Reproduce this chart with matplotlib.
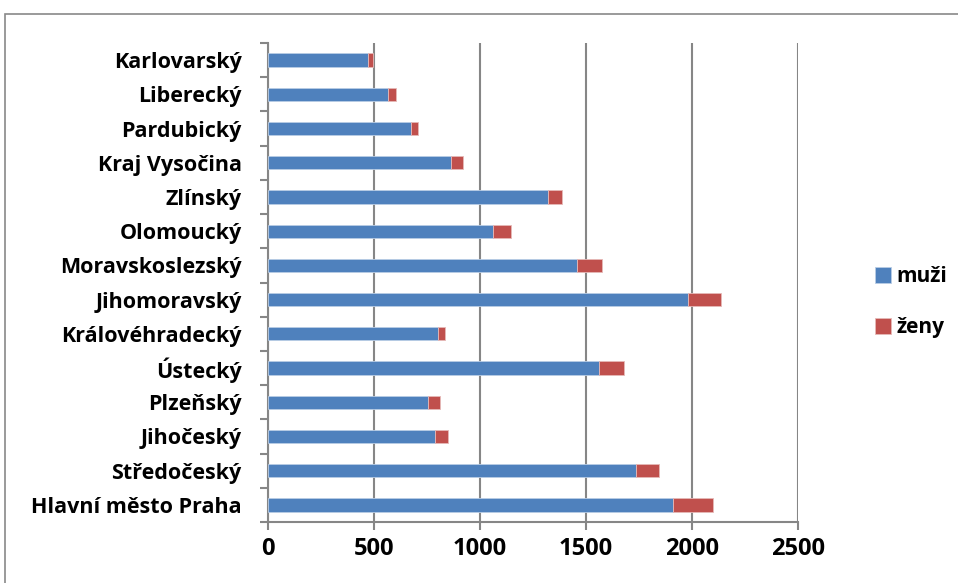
import numpy as np
import matplotlib.pyplot as plt
from matplotlib.patches import Rectangle

kraje = ['Hlavní město Praha', 'Středočeský', 'Jihočeský', 'Plzeňský', 'Ústecký',
         'Královéhradecký', 'Jihomoravský', 'Moravskoslezský', 'Olomoucký', 'Zlínský',
         'Kraj Vysočina', 'Pardubický', 'Liberecký', 'Karlovarský']
muzi = [1910, 1734, 787, 754, 1560, 801, 1982, 1456, 1060, 1319, 862, 674, 565, 471]
zeny = [189, 109, 61, 55, 119, 32, 154, 120, 87, 66, 57, 33, 40, 24]
xticks = [0, 500, 1000, 1500, 2000, 2500]

plt.rcParams['font.family'] = ['Open Sans', 'DejaVu Sans']
plt.rcParams['font.weight'] = 'bold'

fig = plt.figure(figsize=(9.58, 5.83), dpi=100)
ax = fig.add_axes([268 / 958, 1 - 522 / 583, 530 / 958, 479 / 583])

y = np.arange(len(kraje))
ax.barh(y, muzi, height=0.39, color='#4F81BD', edgecolor='#B9CDE5', linewidth=0.6,
        label='muži', zorder=3)
ax.barh(y, zeny, left=muzi, height=0.39, color='#C0504D', edgecolor='#E6B9B8',
        linewidth=0.6, label='ženy', zorder=3)

ax.set_xlim(0, 2500)
ax.set_ylim(-0.5, len(kraje) - 0.5)
ax.set_xticks(xticks)
ax.set_xticklabels([str(t) for t in xticks], fontsize=17, fontweight='bold')
ax.set_yticks(y)
ax.set_yticklabels(kraje, fontsize=15.5, fontweight='bold')
ax.set_yticks(np.arange(-0.5, len(kraje), 1), minor=True)

ax.tick_params(axis='y', which='major', length=0, pad=19)
ax.tick_params(axis='y', which='minor', length=6, width=1.5, color='#868686', direction='out')
ax.tick_params(axis='x', length=6, width=1.5, color='#868686', direction='out', pad=5)

ax.grid(axis='x', color='#868686', linewidth=1.5, zorder=0)
for side in ['top', 'right']:
    ax.spines[side].set_visible(False)
for side in ['left', 'bottom']:
    ax.spines[side].set_color('#868686')
    ax.spines[side].set_linewidth(1.5)

leg = fig.legend(loc='center left', bbox_to_anchor=(856 / 958, 1 - 302 / 583),
                 frameon=False, prop={'size': 15, 'weight': 'bold'},
                 handlelength=0.8, handleheight=0.8, handletextpad=0.25, labelspacing=1.45)

fig.patches.append(Rectangle((5 / 958, -0.1), 1.2, 0.1 + 1 - 14 / 583,
                             transform=fig.transFigure, fill=False,
                             edgecolor='#898989', linewidth=1.2))

fig.savefig('out.png', dpi=100)
